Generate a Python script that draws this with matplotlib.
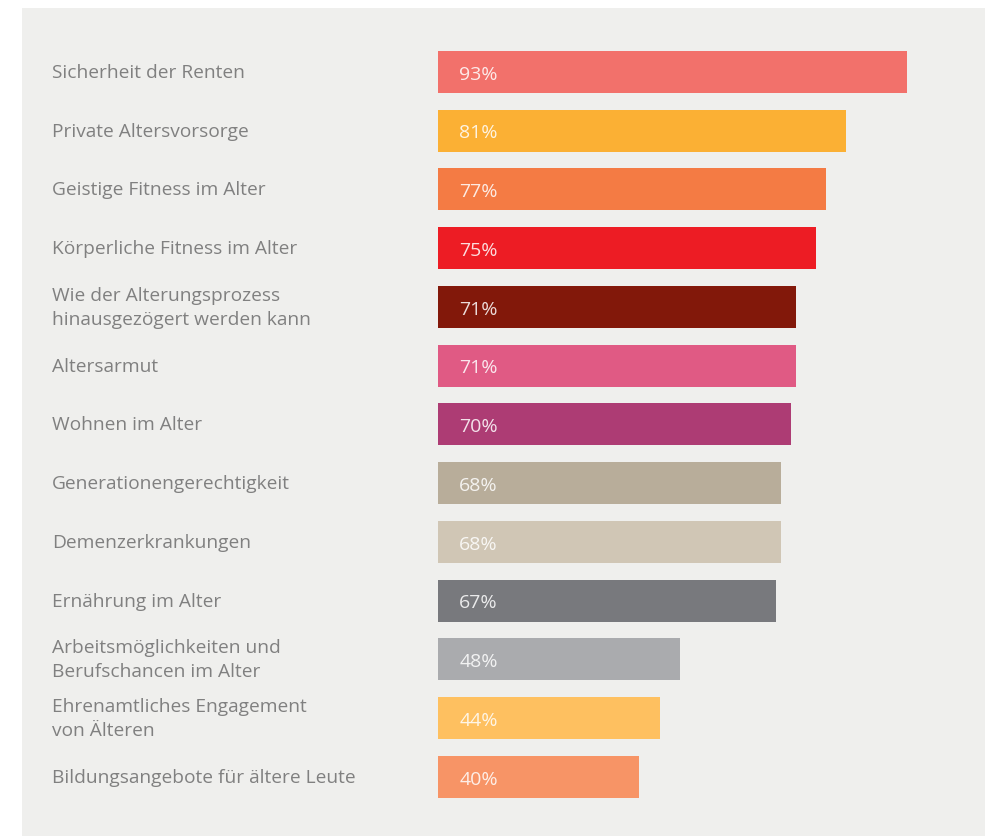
import matplotlib.pyplot as plt
import matplotlib.transforms as mtransforms

plt.rcParams['font.family'] = ['Open Sans', 'DejaVu Sans']

# data
themen = ["Sicherheit der Renten",
          "Private Altersvorsorge",
          "Geistige Fitness im Alter",
          "Körperliche Fitness im Alter",
          "Wie der Alterungsprozess\nhinausgezögert werden kann",
          "Altersarmut",
          "Wohnen im Alter",
          "Generationengerechtigkeit",
          "Demenzerkrankungen",
          "Ernährung im Alter",
          "Arbeitsmöglichkeiten und\nBerufschancen im Alter",
          "Ehrenamtliches Engagement\nvon Älteren",
          "Bildungsangebote für ältere Leute"]
werte = [93, 81, 77, 75, 71, 71, 70, 68, 68, 67, 48, 44, 40]
farben = ["#F2716B", "#FBB034", "#F47B44", "#ED1C24", "#82180A", "#E05A84",
          "#AD3C74", "#B8AD9A", "#D0C6B5", "#78797D", "#AAABAE", "#FEC060",
          "#F79466"]

W, H = 986, 837
fig = plt.figure(figsize=(W / 100, H / 100), dpi=100)
fig.patch.set_facecolor("white")

# grey panel as background axes
bg = fig.add_axes([22 / W, 0, (985 - 22) / W, (H - 9) / H], zorder=0)
bg.set_facecolor("#EFEFED")
bg.set_xticks([])
bg.set_yticks([])
for s in bg.spines.values():
    s.set_visible(False)

ax = fig.add_axes([437.5 / W, 0, (985 - 437.5) / W, (H - 9) / H], zorder=1)
ax.patch.set_alpha(0)
ax.set_axis_off()

pos = list(range(len(werte)))
ax.barh(pos, werte, height=0.715, color=farben, zorder=2)
ax.set_xlim(0, (985 - 437.5) / 5.048)
ax.set_ylim((837 - 72.8) / 58.75, (9 - 72.8) / 58.75)

for i, v in enumerate(werte):
    ax.text(4.3, i + 0.03, f"{v}%", color="white", alpha=0.85, fontsize=14,
            va="center", ha="left", zorder=3)

trans = mtransforms.blended_transform_factory(fig.transFigure, ax.transData)
for i, t in enumerate(themen):
    ax.text(52 / W, i, t, transform=trans, color="#808080", fontsize=13.8,
            va="center", ha="left", linespacing=1.42, clip_on=False)

fig.savefig("out.png", dpi=100)
